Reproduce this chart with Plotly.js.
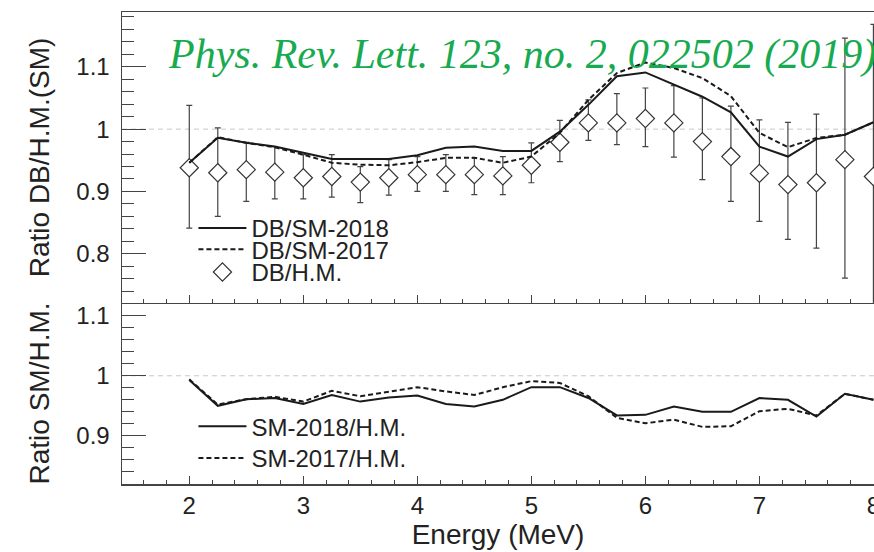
<!DOCTYPE html>
<html>
<head>
<meta charset="utf-8">
<script src="https://cdn.plot.ly/plotly-3.0.1.min.js"></script>
<style>html,body{margin:0;padding:0;background:#fff;}#chart{width:874px;height:552px;}</style>
</head>
<body>
<div id="chart"></div>
<script>
// Energy bins (MeV)
const energy = [2.0, 2.25, 2.5, 2.75, 3.0, 3.25, 3.5, 3.75, 4.0, 4.25, 4.5, 4.75, 5.0, 5.25, 5.5, 5.75, 6.0, 6.25, 6.5, 6.75, 7.0, 7.25, 7.5, 7.75, 8.0];

// Top panel
const dbSm2018 = [0.946, 0.986, 0.978, 0.972, 0.962, 0.952, 0.952, 0.952, 0.958, 0.970, 0.972, 0.965, 0.965, 0.996, 1.039, 1.085, 1.091, 1.071, 1.052, 1.027, 0.972, 0.956, 0.984, 0.991, 1.011];
const dbSm2017 = [0.946, 0.987, 0.978, 0.971, 0.959, 0.946, 0.943, 0.942, 0.947, 0.954, 0.954, 0.946, 0.956, 0.994, 1.047, 1.090, 1.107, 1.098, 1.082, 1.053, 0.994, 0.971, 0.986, 0.991, 1.011];
const dbHm = [0.938, 0.930, 0.935, 0.931, 0.922, 0.924, 0.915, 0.922, 0.927, 0.927, 0.927, 0.925, 0.942, 0.979, 1.010, 1.010, 1.017, 1.010, 0.980, 0.956, 0.929, 0.911, 0.914, 0.951, 0.924];
const dbHmErrUp = [0.100, 0.072, 0.044, 0.041, 0.037, 0.035, 0.025, 0.029, 0.029, 0.032, 0.027, 0.031, 0.036, 0.035, 0.037, 0.047, 0.049, 0.060, 0.070, 0.081, 0.086, 0.100, 0.110, 0.195, 0.244];
const dbHmErrDown = [0.097, 0.070, 0.051, 0.043, 0.034, 0.033, 0.033, 0.028, 0.027, 0.027, 0.032, 0.030, 0.028, 0.031, 0.028, 0.035, 0.045, 0.055, 0.061, 0.072, 0.077, 0.088, 0.105, 0.190, 0.240];

// Bottom panel
const sm2018Hm = [0.993, 0.950, 0.961, 0.963, 0.953, 0.968, 0.957, 0.964, 0.967, 0.953, 0.949, 0.960, 0.981, 0.981, 0.963, 0.934, 0.935, 0.949, 0.940, 0.940, 0.963, 0.960, 0.932, 0.970, 0.960];
const sm2017Hm = [0.994, 0.952, 0.961, 0.965, 0.957, 0.975, 0.966, 0.974, 0.981, 0.974, 0.968, 0.981, 0.991, 0.988, 0.966, 0.930, 0.921, 0.927, 0.915, 0.916, 0.941, 0.945, 0.934, 0.970, 0.960];

const refText = "Phys. Rev. Lett. 123, no. 2, 022502 (2019)";

const FONT = "Liberation Sans, Arial, Helvetica, sans-serif";
const INK = "#222";
const AX = "#444";

const traces = [
  {
    x: energy, y: dbHm, type: "scatter", mode: "markers", name: "DB/H.M.",
    xaxis: "x", yaxis: "y", legend: "legend3",
    marker: {symbol: "diamond", size: 14, color: "#fff", line: {color: "#333", width: 1.2}},
    error_y: {type: "data", symmetric: false, array: dbHmErrUp, arrayminus: dbHmErrDown, color: "#444", thickness: 1.2, width: 3}
  },
  {
    x: energy, y: dbSm2018, type: "scatter", mode: "lines", name: "DB/SM-2018",
    xaxis: "x", yaxis: "y", legend: "legend",
    line: {color: "#1a1a1a", width: 2}
  },
  {
    x: energy, y: dbSm2017, type: "scatter", mode: "lines", name: "DB/SM-2017",
    xaxis: "x", yaxis: "y", legend: "legend2",
    line: {color: "#1a1a1a", width: 2, dash: "5px,3px"}
  },
  {
    x: energy, y: sm2018Hm, type: "scatter", mode: "lines", name: "SM-2018/H.M.",
    xaxis: "x2", yaxis: "y2", legend: "legend4",
    line: {color: "#1a1a1a", width: 2}
  },
  {
    x: energy, y: sm2017Hm, type: "scatter", mode: "lines", name: "SM-2017/H.M.",
    xaxis: "x2", yaxis: "y2", legend: "legend5",
    line: {color: "#1a1a1a", width: 2, dash: "5px,3px"}
  }
];

const split = 0.3835;
const xCommon = {
  range: [1.41, 8.005], dtick: 1, tick0: 0,
  ticks: "inside", ticklen: 8, tickwidth: 1.2, tickcolor: AX,
  minor: {dtick: 0.2, ticks: "inside", ticklen: 4, tickwidth: 1, tickcolor: AX},
  showline: true, linecolor: AX, linewidth: 1.5,
  showgrid: false, zeroline: false
};
const yCommon = {
  dtick: 0.1, tick0: 0,
  ticks: "inside", ticklen: 24, tickwidth: 1.2, tickcolor: AX,
  minor: {dtick: 0.02, ticks: "inside", ticklen: 12, tickwidth: 1, tickcolor: AX},
  showline: true, linecolor: AX, linewidth: 1.5,
  showgrid: false, zeroline: false,
  tickfont: {family: FONT, size: 24, color: INK},
  ticklabelstandoff: 6
};

function legendAt(y) {
  return {
    x: 0.095, y: y, xanchor: "left", yanchor: "top",
    bgcolor: "rgba(0,0,0,0)", font: {family: FONT, size: 24, color: INK},
    itemwidth: 48
  };
}

const layout = {
  width: 874, height: 552,
  margin: {l: 122, r: 0, t: 12, b: 68},
  paper_bgcolor: "#fff", plot_bgcolor: "#fff",
  font: {family: FONT, color: INK},
  xaxis: Object.assign({}, xCommon, {anchor: "y", showticklabels: false, mirror: true}),
  xaxis2: Object.assign({}, xCommon, {
    anchor: "y2", matches: "x", ticklabeloverflow: "allow",
    tickfont: {family: FONT, size: 24, color: INK},
    title: {text: "Energy (MeV)", font: {family: FONT, size: 28, color: INK}, standoff: 4}
  }),
  yaxis: Object.assign({}, yCommon, {
    domain: [split, 1], range: [0.721, 1.188], anchor: "x",
    title: {text: "Ratio DB/H.M.(SM)", font: {family: FONT, size: 28, color: INK}, standoff: 18}
  }),
  yaxis2: Object.assign({}, yCommon, {
    domain: [0, split], range: [0.820, 1.121], anchor: "x2",
    title: {text: "Ratio SM/H.M.", font: {family: FONT, size: 28, color: INK}, standoff: 18}
  }),
  legend: legendAt(0.589),
  legend2: legendAt(0.544),
  legend3: legendAt(0.496),
  legend4: legendAt(0.169),
  legend5: legendAt(0.102),
  shapes: [
    {type: "line", xref: "x domain", x0: 0, x1: 1, yref: "y", y0: 1, y1: 1, layer: "below",
     line: {color: "#c8c8c8", width: 1, dash: "5px,4px"}},
    {type: "line", xref: "x2 domain", x0: 0, x1: 1, yref: "y2", y0: 1, y1: 1, layer: "below",
     line: {color: "#c8c8c8", width: 1, dash: "5px,4px"}}
  ],
  annotations: [
    {text: refText, xref: "paper", yref: "paper", x: 0.058, y: 0.911, xanchor: "left", yanchor: "middle",
     showarrow: false, font: {family: "Liberation Serif, Times New Roman, serif", size: 42, color: "#17aa4f", style: "italic"}}
  ],
  showlegend: true
};

Plotly.newPlot("chart", traces, layout, {displayModeBar: false, staticPlot: true});
</script>
</body>
</html>
